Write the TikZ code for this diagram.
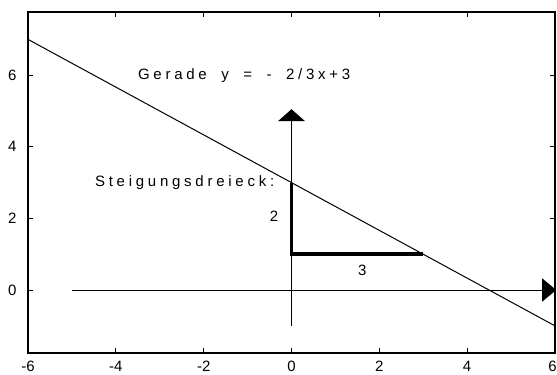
\documentclass[tikz,border=0pt]{standalone}
\usepackage{fontspec}
\setmainfont{Liberation Sans}
\newfontfamily\sperrfont[LetterSpace=25]{Liberation Sans}
\usetikzlibrary{arrows.meta, positioning}
\newcommand{\sperrgap}{\hspace{14.5pt}}

\begin{document}
\begin{tikzpicture}[x=43.9pt, y=35.8pt, >=Triangle, font=\fontsize{15}{18}\selectfont,
    axisline/.style={draw, line width=1pt},
    tickline/.style={draw, line width=1pt},
    numlbl/.style={inner sep=0pt},
    sperrlbl/.style={inner sep=0pt, font=\fontsize{15}{18}\sperrfont}]
    \useasboundingbox (-6.640,-2.346) rectangle (6.048,8.101);

    % Frame
    \coordinate (frame_sw) at (-6,-1.76);
    \coordinate (frame_ne) at (6,7.765);
    \draw [line width=2pt] (frame_sw) rectangle (frame_ne);

    % Ticks
    \foreach \t in {-4,-2,0,2,4} {
        \draw [tickline] (\t,-1.76) -- (\t,-1.62);
        \draw [tickline] (\t,7.765) -- (\t,7.625);
    }
    \foreach \t in {0,2,4,6} {
        \draw [tickline] (-6,\t) -- (-5.88,\t);
        \draw [tickline] (6,\t) -- (5.88,\t);
    }

    % Tick labels
    \foreach \t in {-6,-4,-2,0,2,4}
        \node [numlbl, anchor=north] at (\t,-1.98) {\t};
    \node [numlbl, anchor=north east] at (6.048,-1.98) {6};
    \foreach \t in {0,2,4,6}
        \node [numlbl, anchor=east] at (-6.26,\t) {\t};

    % Axes
    \coordinate (x_start) at (-5,0);
    \coordinate (x_end) at (6.03,0);
    \coordinate (y_start) at (0,-1);
    \coordinate (y_end) at (0,5.05);
    \draw [axisline, -{Triangle[length=14pt, width=23pt]}] (x_start) -- (x_end);
    \draw [axisline, -{Triangle[length=12pt, width=27pt]}] (y_start) -- (y_end);

    % Gerade
    \coordinate (g_left) at (-6,7);
    \coordinate (g_right) at (6,-1);
    \draw [line width=1pt] (g_left) -- (g_right);

    % Steigungsdreieck
    \coordinate (d_corner) at (0,1);
    \coordinate (d_top) at (0,3);
    \coordinate (d_right) at (3,1);
    \draw [line width=3.5pt] (d_top) -- (d_corner) -- (d_right);

    % Labels
    \node (gerade_lbl) [sperrlbl, anchor=base west] at (-3.50,5.89)
        {Gerade\sperrgap y\sperrgap =\sperrgap -\sperrgap 2/3x+3};
    \node (dreieck_lbl) [sperrlbl, anchor=base west] at (-4.48,2.88) {Steigungsdreieck:};
    \node (dy_lbl) [numlbl] at (-0.40,2.05) {2};
    \node (dx_lbl) [numlbl] at (1.61,0.56) {3};
\end{tikzpicture}
\end{document}
